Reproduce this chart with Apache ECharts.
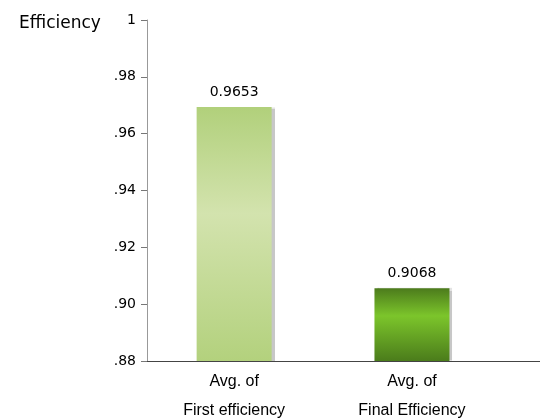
<!doctype html>
<html>
    <head>
        <meta charset="utf-8">
        <title>Average efficiency</title>
        <style>
            html, body { margin: 0; padding: 0; background: #fff; }
            #main { width: 540px; height: 419px; }
        </style>
    </head>
    <body>
        <div id="main"></div>
        <script src="https://cdn.jsdelivr.net/npm/echarts@6/dist/echarts.min.js"></script>
        <script>
            // data
            var categories = ['Avg. of\nFirst efficiency', 'Avg. of\nFinal Efficiency'];
            var barValues = [0.9694, 0.9056];          // bar heights as drawn
            var labelTexts = ['0.9653', '0.9068'];     // printed values
            var yTicks = { min: 0.88, max: 1, step: 0.02 };

            var chart = echarts.init(document.getElementById('main'));

            // gradients for the two bars
            var fills = [
                new echarts.graphic.LinearGradient(0, 0, 0, 1, [
                    { offset: 0, color: '#b1d07b' },
                    { offset: 0.42, color: '#d3e3ae' },
                    { offset: 1, color: '#b3d17d' }
                ]),
                new echarts.graphic.LinearGradient(0, 0, 0, 1, [
                    { offset: 0, color: '#4c7b1c' },
                    { offset: 0.38, color: '#7cc52b' },
                    { offset: 1, color: '#4b7c1b' }
                ])
            ];

            var seriesData = barValues.map(function (v, i) {
                return {
                    value: [i + 0.5, v],
                    itemStyle: { color: fills[i] }
                };
            });

            chart.setOption({
                animation: false,
                title: {
                    text: 'Efficiency',
                    left: 14,
                    top: 10,
                    textStyle: { fontFamily: 'DejaVu Sans', fontSize: 17, fontWeight: 'normal', color: '#000' }
                },
                grid: { left: 147, right: 0, top: 20, bottom: 58, containLabel: false, outerBoundsMode: 'none' },
                xAxis: {
                    type: 'value',
                    min: 0.01,
                    max: 2.22,
                    axisLine: { show: true, lineStyle: { color: '#444', width: 1 } },
                    axisTick: { show: false },
                    splitLine: { show: false },
                    axisLabel: {
                        customValues: [0.5, 1.5],
                        margin: 6,
                        fontFamily: 'Liberation Sans',
                        fontSize: 16,
                        lineHeight: 29,
                        color: '#000',
                        formatter: function (v) {
                            return categories[Math.round(v - 0.5)];
                        }
                    }
                },
                yAxis: {
                    type: 'value',
                    min: yTicks.min,
                    max: yTicks.max,
                    interval: yTicks.step,
                    axisLine: { show: true, lineStyle: { color: '#999', width: 1 } },
                    axisTick: { show: true, length: 6, lineStyle: { color: '#777' } },
                    splitLine: { show: false },
                    axisLabel: {
                        margin: 11,
                        fontFamily: 'DejaVu Sans',
                        fontSize: 14,
                        color: '#000',
                        formatter: function (v) {
                            if (Math.abs(v - 1) < 1e-9) return '1';
                            return v.toFixed(2).replace(/^0/, '');
                        }
                    }
                },
                series: [{
                    type: 'bar',
                    barWidth: 75,
                    data: seriesData,
                    itemStyle: {
                        shadowColor: 'rgba(0,0,0,0.22)',
                        shadowBlur: 1,
                        shadowOffsetX: 3,
                        shadowOffsetY: 0
                    },
                    label: {
                        show: true,
                        position: 'top',
                        distance: 8,
                        fontFamily: 'DejaVu Sans',
                        fontSize: 14,
                        color: '#000',
                        formatter: function (p) {
                            return labelTexts[p.dataIndex];
                        }
                    }
                }]
            });

            window.addEventListener('resize', function () {
                chart.resize();
            });
        </script>
    </body>
</html>
